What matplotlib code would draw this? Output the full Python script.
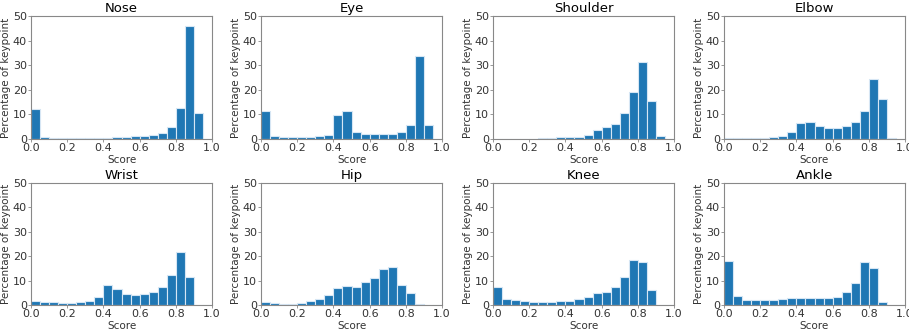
import numpy as np
import matplotlib
matplotlib.use("Agg")
import matplotlib.pyplot as plt

bin_edges = np.round(np.arange(0, 1.0001, 0.05), 2)

titles = ["Nose", "Eye", "Shoulder", "Elbow", "Wrist", "Hip", "Knee", "Ankle"]

nose = [12.0, 1.0, 0.6, 0.4, 0.4, 0.4, 0.4, 0.4, 0.5, 0.7, 0.9, 1.1, 1.4, 1.8, 2.5, 4.8, 12.5, 45.8, 10.5, 0.0]
eye = [11.2, 1.2, 0.8, 0.7, 0.7, 0.8, 1.1, 1.8, 9.7, 11.4, 2.8, 2.2, 1.9, 1.9, 2.0, 2.8, 5.8, 33.8, 5.8, 0.0]
shoulder = [0.2, 0.0, 0.0, 0.0, 0.1, 0.3, 0.6, 0.8, 0.7, 0.8, 1.6, 3.5, 5.0, 6.3, 10.6, 19.1, 31.5, 15.3, 1.1, 0.0]
elbow = [0.6, 0.3, 0.3, 0.3, 0.4, 0.8, 1.3, 2.9, 6.5, 6.9, 5.2, 4.5, 4.3, 5.1, 7.0, 11.5, 24.2, 16.2, 0.4, 0.0]
wrist = [1.6, 1.4, 1.1, 1.0, 1.0, 1.1, 1.6, 3.2, 8.4, 6.6, 4.4, 4.0, 4.4, 5.2, 7.4, 12.5, 21.8, 11.5, 0.0, 0.0]
hip = [1.2, 0.8, 0.6, 0.6, 1.0, 1.6, 2.6, 4.2, 7.0, 7.7, 7.3, 9.5, 11.2, 14.7, 15.5, 8.2, 4.8, 0.4, 0.0, 0.0]
knee = [7.3, 2.3, 2.0, 1.6, 1.2, 1.2, 1.3, 1.5, 1.8, 2.4, 3.2, 4.9, 5.5, 7.5, 11.6, 18.4, 17.5, 6.2, 0.0, 0.0]
ankle = [17.9, 3.5, 2.1, 1.9, 2.1, 2.2, 2.4, 3.0, 2.8, 2.7, 2.9, 2.9, 3.4, 5.4, 9.1, 17.6, 15.2, 1.2, 0.0, 0.0]

series = [nose, eye, shoulder, elbow, wrist, hip, knee, ankle]

W, H = 909, 329
fig = plt.figure(figsize=(W / 100, H / 100), dpi=100)

lefts = [31, 261, 493, 724]
row_tb = [(16, 139), (183, 305)]
axw = 181

for i, (title, vals) in enumerate(zip(titles, series)):
    r, c = divmod(i, 4)
    top, bot = row_tb[r]
    ax = fig.add_axes([lefts[c] / W, 1 - bot / H, axw / W, (bot - top) / H])
    ax.bar(bin_edges[:-1], vals, width=0.05, align="edge",
           color="#1f77b4", edgecolor="#d6e6f4", linewidth=0.8)
    ax.set_xlim(0, 1.0)
    ax.set_ylim(0, 50)
    ax.set_xticks([0, 0.2, 0.4, 0.6, 0.8, 1.0])
    ax.set_yticks([0, 10, 20, 30, 40, 50])
    ax.tick_params(labelsize=8, length=2, width=0.6, pad=1,
                   color="#888888", labelcolor="#333333")
    ax.set_title(title, fontsize=9.5, pad=3)
    ax.set_xlabel("Score", fontsize=7.5, labelpad=1, color="#333333")
    ax.set_ylabel("Percentage of keypoint", fontsize=7.5, labelpad=1, color="#333333")
    for s in ax.spines.values():
        s.set_color("#888888")
        s.set_linewidth(0.8)

fig.savefig("out.png", dpi=100)
